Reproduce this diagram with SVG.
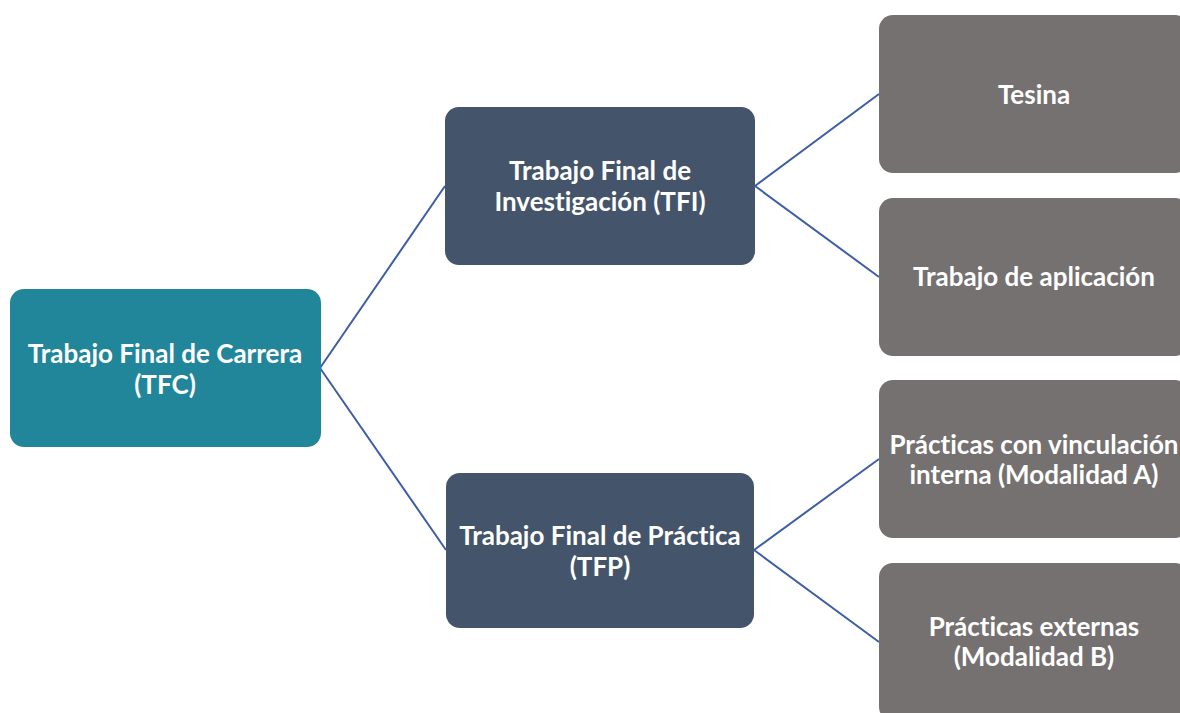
<svg xmlns="http://www.w3.org/2000/svg" width="1180" height="713" viewBox="0 0 1180 713">
<style>
.teal{fill:#21869A}
.slate{fill:#44546A}
.gray{fill:#767171}
text{font-family:Lato,"Liberation Sans",sans-serif;font-weight:bold;font-size:26px;fill:#ffffff;text-anchor:middle;font-variant-ligatures:none}
.conn line{stroke:#3D5DA6;stroke-width:2;fill:none}
</style>
<rect width="1180" height="713" fill="#ffffff"/>
<g class="conn" id="connectors">
<line x1="320" y1="368" x2="445" y2="186"/>
<line x1="320" y1="368" x2="446" y2="550"/>
<line x1="755" y1="186" x2="879" y2="94"/>
<line x1="755" y1="186" x2="879" y2="277"/>
<line x1="754" y1="550" x2="879" y2="459"/>
<line x1="754" y1="550" x2="879" y2="642"/>
</g>
<g id="tfc">
<rect class="teal" x="10" y="289" width="311" height="158" rx="14"/>
<text x="165" y="363">Trabajo Final de Carrera</text>
<text x="165" y="394">(TFC)</text>
</g>
<g id="tfi">
<rect class="slate" x="445" y="107" width="310" height="158" rx="14"/>
<text x="600" y="180">Trabajo Final de</text>
<text x="600" y="211">Investigación (TFI)</text>
</g>
<g id="tfp">
<rect class="slate" x="446" y="473" width="308" height="155" rx="14"/>
<text x="600" y="545">Trabajo Final de Práctica</text>
<text x="600" y="576">(TFP)</text>
</g>
<g id="tesina">
<rect class="gray" x="879" y="15" width="310" height="158" rx="14"/>
<text x="1034" y="104">Tesina</text>
</g>
<g id="aplicacion">
<rect class="gray" x="879" y="198" width="310" height="158" rx="14"/>
<text x="1034" y="286">Trabajo de aplicación</text>
</g>
<g id="modalidad-a">
<rect class="gray" x="879" y="380" width="310" height="158" rx="14"/>
<text x="1034" y="454">Prácticas con vinculación</text>
<text x="1034" y="484">interna (Modalidad A)</text>
</g>
<g id="modalidad-b">
<rect class="gray" x="879" y="563" width="310" height="158" rx="14"/>
<text x="1034" y="636">Prácticas externas</text>
<text x="1034" y="666">(Modalidad B)</text>
</g>
</svg>
